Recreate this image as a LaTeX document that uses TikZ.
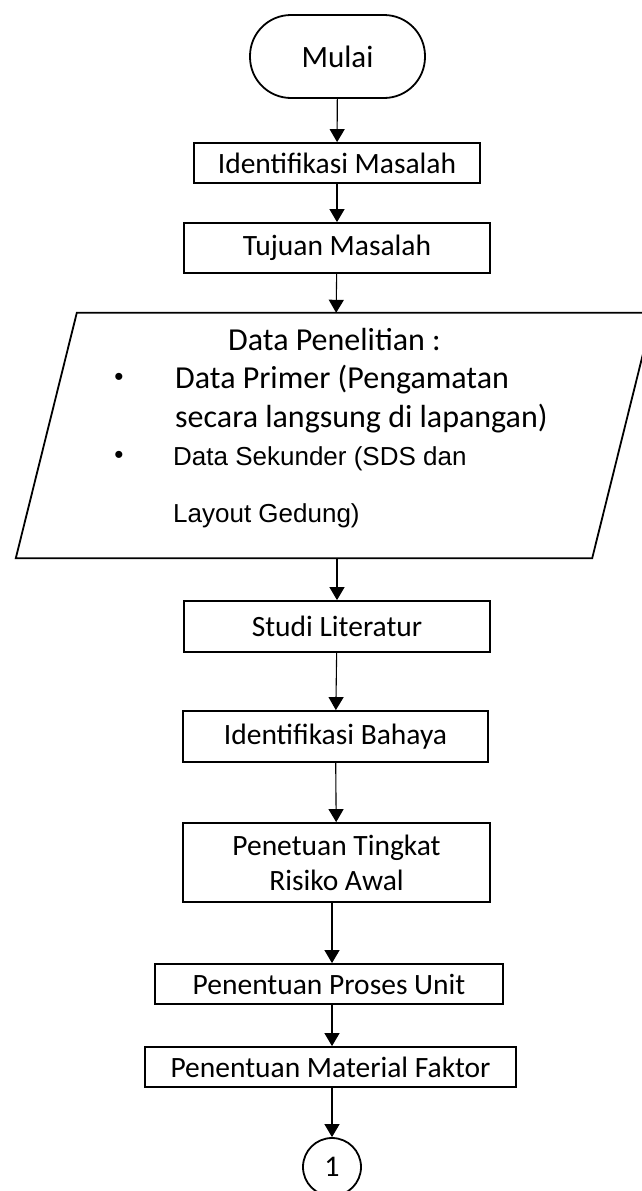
\documentclass[tikz,border=0pt]{standalone}
\usepackage{fontspec}
\setmainfont{Carlito}
\newfontfamily\arialfont{Liberation Sans}
\usetikzlibrary{positioning}
\usetikzlibrary{shapes}
\usetikzlibrary{shapes.geometric}
\usetikzlibrary{arrows.meta}
\usetikzlibrary{calc}

\tikzset{
  procbox/.style={draw,rectangle,line width=1.8pt,inner sep=0pt,align=center,
    font=\fontsize{29.5}{35}\selectfont},
  termbox/.style={draw,rectangle,rounded corners=41pt,line width=1.8pt,
    minimum width=175pt,minimum height=83pt,font=\fontsize{31}{37}\selectfont},
  connbox/.style={draw,circle,line width=1.8pt,minimum size=58pt,inner sep=0pt,
    font=\fontsize{30}{35}\selectfont},
  datatext/.style={anchor=base west,inner sep=0pt,font=\fontsize{32}{38}\selectfont},
  arialtext/.style={anchor=base west,inner sep=0pt,font=\arialfont\fontsize{26}{31}\selectfont}
}

\begin{document}
\begin{tikzpicture}[x=1pt,y=-1pt]
          \useasboundingbox (0,0) rectangle (641,1191);
          \node[termbox] (mulai) at (337.5, 56.5) {Mulai};
          \begin{scope}[every node/.style={procbox}]
            \node[minimum width=286pt,minimum height=40pt] (ident) at (337, 163) {Identifikasi Masalah};
            \node[minimum width=306pt,minimum height=50pt] (tujuan) at (337, 248) {Tujuan Masalah};
            \node[minimum width=306pt,minimum height=51pt] (studi) at (337, 626.5) {Studi Literatur};
            \node[minimum width=305pt,minimum height=51pt] (bahaya) at (335.5, 736.5) {Identifikasi Bahaya};
            \node[minimum width=307pt,minimum height=79pt] (risiko) at (336.5, 862.5) {Penetuan Tingkat\\Risiko Awal};
            \node[minimum width=348pt,minimum height=40pt] (proses) at (329, 984) {Penentuan Proses Unit};
            \node[minimum width=371pt,minimum height=40pt] (material) at (330.5, 1067) {Penentuan Material Faktor};
          \end{scope}
          \node[connbox] (con1) at (332, 1167) {1};
          % data input (parallelogram)
          \node[minimum width=576pt,minimum height=245pt,inner sep=0pt] (data) at (334.5, 435.5) {};
          \draw[line width=1.8pt,line join=miter] ([xshift=-30.5pt]data.south west) -- ([xshift=-30.5pt]data.south east)
            -- ([xshift=30.5pt]data.north east) -- ([xshift=30.5pt]data.north west) -- cycle;
          \node[datatext] (dtitle) at (228, 350) {Data Penelitian :};
          \node[arialtext,anchor=base] (b1) at (119, 385) {\textbullet};
          \node[datatext] (l1) at (175, 388) {Data Primer (Pengamatan};
          \node[datatext] (l2) at (175, 427) {secara langsung di lapangan)};
          \node[arialtext,anchor=base] (b2) at (119, 463) {\textbullet};
          \node[arialtext] (l3) at (173, 465) {Data Sekunder (SDS dan};
          \node[arialtext] (l4) at (173, 522) {Layout Gedung)};
          \begin{scope}[every path/.style={-{Triangle[length=13pt,width=15pt]},line width=1.1pt}]
            \draw (mulai) -- (ident);
            \draw (ident) -- (tujuan);
            \draw (tujuan) -- (data);
            \draw (data.south -| studi) -- (studi);
            \draw (studi) -- (bahaya);
            \draw (bahaya) -- (risiko);
            \draw (risiko.south -| con1) -- (proses.north -| con1);
            \draw (proses.south -| con1) -- (material.north -| con1);
            \draw (material.south -| con1) -- (con1);
          \end{scope}
        \end{tikzpicture}
\end{document}
